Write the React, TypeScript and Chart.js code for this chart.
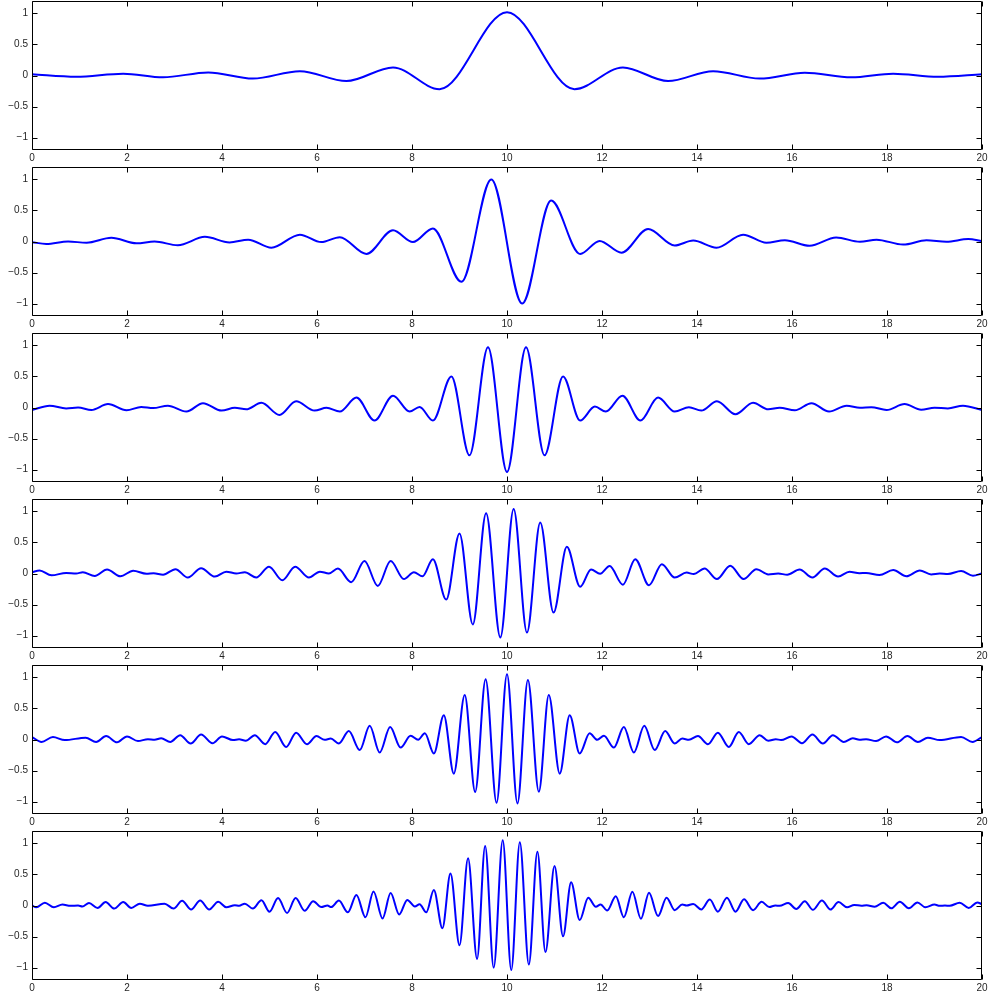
import React, { useEffect, useRef } from "react";
import { Chart, registerables } from "chart.js";

Chart.register(...registerables);

const xTickValues = [0, 2, 4, 6, 8, 10, 12, 14, 16, 18, 20];
const xTickLabels = ["0", "2", "4", "6", "8", "10", "12", "14", "16", "18", "20"];
const yTickValues = [-1, -0.5, 0, 0.5, 1];
const yTickLabels = ["\u22121", "\u22120.5", "0", "0.5", "1"];

const panel1X = [0, 0.93, 1.92, 2.76, 3.71, 4.65, 5.64, 6.62, 7.6, 8.58, 10, 11.42, 12.44, 13.39, 14.34, 15.32, 16.27, 17.25, 18.13, 19.07, 20];
const panel1Y = [0.02, -0.02, 0.03, -0.03, 0.05, -0.05, 0.07, -0.09, 0.13, -0.22, 1.02, -0.22, 0.13, -0.09, 0.07, -0.05, 0.045, -0.03, 0.03, -0.02, 0.02];

const panel2X = [0, 0.3, 0.76, 1.15, 1.67, 2.2, 2.58, 3.07, 3.64, 4.16, 4.55, 5.04, 5.64, 6.09, 6.48, 7.04, 7.6, 8.02, 8.44, 9.04, 9.67, 10.32, 10.93, 11.54, 11.95, 12.41, 12.97, 13.53, 13.92, 14.41, 14.97, 15.46, 15.85, 16.37, 16.93, 17.43, 17.78, 18.34, 18.83, 19.25, 19.71, 20];
const panel2Y = [-0.01, -0.04, 0.0, -0.02, 0.06, -0.03, 0.0, -0.06, 0.075, -0.015, 0.03, -0.1, 0.11, -0.01, 0.07, -0.2, 0.18, -0.01, 0.21, -0.65, 1.0, -1.0, 0.66, -0.2, 0.01, -0.18, 0.2, -0.065, 0.015, -0.1, 0.11, -0.02, 0.02, -0.07, 0.065, -0.005, 0.03, -0.05, 0.02, -0.005, 0.04, 0.005];

const panel3X = [0, 0.37, 0.72, 0.97, 1.25, 1.6, 1.99, 2.3, 2.55, 2.86, 3.25, 3.6, 3.99, 4.27, 4.51, 4.83, 5.21, 5.56, 5.95, 6.2, 6.48, 6.83, 7.21, 7.6, 7.95, 8.16, 8.44, 8.83, 9.21, 9.6, 10.0, 10.4, 10.79, 11.18, 11.54, 11.85, 12.08, 12.43, 12.81, 13.18, 13.53, 13.83, 14.09, 14.42, 14.81, 15.18, 15.5, 15.74, 16.06, 16.41, 16.78, 17.15, 17.43, 17.67, 17.99, 18.37, 18.72, 19.0, 19.28, 19.6, 20];
const panel3Y = [-0.04, 0.03, -0.015, 0.0, -0.04, 0.055, -0.045, 0.01, -0.01, 0.03, -0.065, 0.07, -0.05, -0.005, -0.03, 0.075, -0.12, 0.1, -0.05, -0.005, -0.065, 0.16, -0.21, 0.19, -0.065, 0.01, -0.21, 0.5, -0.77, 0.97, -1.04, 0.97, -0.77, 0.5, -0.21, 0.015, -0.065, 0.19, -0.21, 0.16, -0.065, 0.005, -0.05, 0.1, -0.11, 0.075, -0.03, -0.005, -0.045, 0.07, -0.065, 0.03, -0.005, 0.005, -0.04, 0.055, -0.035, -0.005, -0.015, 0.03, -0.04];

const panel4X = [0, 0.16, 0.41, 0.72, 0.93, 1.07, 1.32, 1.58, 1.86, 2.13, 2.41, 2.56, 2.76, 3.02, 3.28, 3.56, 3.85, 4.09, 4.3, 4.48, 4.72, 4.99, 5.27, 5.54, 5.83, 6.06, 6.25, 6.44, 6.72, 7.0, 7.28, 7.55, 7.83, 8.04, 8.22, 8.44, 8.72, 9.0, 9.28, 9.56, 9.86, 10.14, 10.42, 10.7, 10.98, 11.26, 11.54, 11.77, 11.96, 12.16, 12.44, 12.7, 12.99, 13.26, 13.53, 13.78, 13.93, 14.16, 14.42, 14.7, 14.98, 15.25, 15.5, 15.71, 15.9, 16.16, 16.43, 16.69, 16.97, 17.21, 17.42, 17.56, 17.84, 18.13, 18.41, 18.69, 18.93, 19.11, 19.28, 19.56, 19.81, 20];
const panel4Y = [0.02, 0.05, -0.03, 0.01, 0.0, 0.02, -0.04, 0.065, -0.045, 0.045, -0.005, 0.005, -0.02, 0.07, -0.065, 0.085, -0.05, 0.03, 0.0, 0.02, -0.065, 0.11, -0.11, 0.11, -0.065, 0.03, 0.0, 0.08, -0.14, 0.2, -0.2, 0.2, -0.09, 0.02, -0.045, 0.23, -0.42, 0.645, -0.82, 0.97, -1.03, 1.04, -0.95, 0.82, -0.63, 0.43, -0.215, 0.065, -0.005, 0.12, -0.18, 0.23, -0.19, 0.15, -0.065, 0.015, -0.01, 0.08, -0.09, 0.125, -0.09, 0.07, -0.015, 0.0, -0.02, 0.065, -0.065, 0.08, -0.05, 0.03, 0.005, 0.01, -0.025, 0.055, -0.045, 0.05, -0.015, 0.0, -0.01, 0.04, -0.035, 0.0];

const panel5X = [0, 0.2, 0.44, 0.69, 1.13, 1.35, 1.56, 1.79, 2.0, 2.23, 2.44, 2.58, 2.72, 2.91, 3.12, 3.34, 3.56, 3.8, 4.0, 4.23, 4.36, 4.5, 4.69, 4.91, 5.12, 5.35, 5.56, 5.79, 5.99, 6.16, 6.29, 6.46, 6.67, 6.9, 7.11, 7.32, 7.54, 7.76, 7.97, 8.13, 8.27, 8.46, 8.67, 8.88, 9.11, 9.33, 9.55, 9.78, 10.0, 10.22, 10.44, 10.67, 10.88, 11.11, 11.32, 11.53, 11.74, 11.9, 12.04, 12.25, 12.46, 12.67, 12.89, 13.11, 13.33, 13.53, 13.69, 13.83, 14.02, 14.23, 14.44, 14.67, 14.88, 15.09, 15.32, 15.5, 15.66, 15.77, 15.99, 16.21, 16.43, 16.65, 16.86, 17.09, 17.28, 17.42, 17.56, 17.77, 17.98, 18.21, 18.43, 18.65, 18.86, 19.11, 19.56, 19.8, 20];
const panel5Y = [0.04, -0.04, 0.04, -0.01, 0.03, -0.04, 0.055, -0.045, 0.05, -0.025, 0.005, -0.005, 0.02, -0.04, 0.07, -0.065, 0.08, -0.06, 0.05, -0.01, 0.005, -0.02, 0.07, -0.075, 0.12, -0.12, 0.11, -0.075, 0.055, -0.005, 0.015, -0.065, 0.135, -0.17, 0.22, -0.21, 0.2, -0.13, 0.06, -0.005, 0.1, -0.225, 0.39, -0.55, 0.715, -0.845, 0.97, -1.02, 1.05, -1.03, 0.96, -0.84, 0.715, -0.55, 0.39, -0.225, 0.1, -0.005, 0.06, -0.13, 0.2, -0.21, 0.22, -0.17, 0.135, -0.065, 0.015, -0.005, 0.055, -0.075, 0.11, -0.12, 0.12, -0.075, 0.07, -0.02, 0.005, -0.01, 0.05, -0.06, 0.08, -0.065, 0.07, -0.04, 0.02, -0.005, 0.005, -0.025, 0.05, -0.045, 0.055, -0.04, 0.03, -0.01, 0.04, -0.04, 0.04];

const panel6X = [0, 0.09, 0.27, 0.46, 0.64, 0.81, 0.97, 1.06, 1.2, 1.38, 1.55, 1.73, 1.92, 2.09, 2.27, 2.44, 2.79, 2.98, 3.16, 3.35, 3.54, 3.73, 3.92, 4.09, 4.27, 4.36, 4.48, 4.65, 4.83, 5.0, 5.18, 5.37, 5.55, 5.74, 5.92, 6.09, 6.22, 6.3, 6.46, 6.65, 6.83, 7.02, 7.19, 7.38, 7.55, 7.73, 7.9, 8.06, 8.16, 8.3, 8.46, 8.64, 8.81, 9.0, 9.18, 9.37, 9.54, 9.72, 9.91, 10.09, 10.27, 10.46, 10.64, 10.81, 11.0, 11.18, 11.35, 11.53, 11.71, 11.87, 11.97, 12.11, 12.29, 12.46, 12.64, 12.82, 12.99, 13.18, 13.36, 13.53, 13.69, 13.78, 13.92, 14.09, 14.27, 14.44, 14.63, 14.81, 14.99, 15.18, 15.36, 15.52, 15.65, 15.74, 15.92, 16.09, 16.27, 16.44, 16.63, 16.81, 16.98, 17.16, 17.31, 17.46, 17.57, 17.74, 17.92, 18.09, 18.27, 18.46, 18.64, 18.81, 19.0, 19.11, 19.22, 19.32, 19.53, 19.72, 19.9, 20];
const panel6Y = [0.0, -0.03, 0.045, -0.03, 0.015, -0.005, 0.0, -0.015, 0.04, -0.04, 0.055, -0.05, 0.055, -0.04, 0.03, -0.005, 0.03, -0.05, 0.075, -0.065, 0.08, -0.065, 0.06, -0.03, 0.005, -0.005, 0.03, -0.05, 0.085, -0.1, 0.12, -0.12, 0.12, -0.085, 0.07, -0.025, 0.0, -0.025, 0.08, -0.11, 0.17, -0.19, 0.225, -0.21, 0.2, -0.145, 0.09, -0.015, 0.02, -0.11, 0.25, -0.365, 0.515, -0.64, 0.76, -0.86, 0.96, -1.0, 1.05, -1.04, 1.02, -0.95, 0.865, -0.75, 0.635, -0.495, 0.375, -0.235, 0.125, -0.02, 0.015, -0.08, 0.15, -0.19, 0.22, -0.215, 0.205, -0.17, 0.125, -0.075, 0.015, 0.0, 0.025, -0.065, 0.095, -0.1, 0.125, -0.1, 0.1, -0.075, 0.06, -0.025, 0.0, -0.005, 0.04, -0.055, 0.07, -0.07, 0.08, -0.065, 0.055, -0.03, 0.01, -0.005, 0.005, -0.02, 0.045, -0.045, 0.06, -0.045, 0.05, -0.03, 0.015, -0.005, 0.0, -0.005, 0.045, -0.04, 0.05, 0.02];

const panels: Array<[number[], number[]]> = [
  [panel1X, panel1Y],
  [panel2X, panel2Y],
  [panel3X, panel3Y],
  [panel4X, panel4Y],
  [panel5X, panel5Y],
  [panel6X, panel6Y],
];

const TICK_FONT = { family: "'Liberation Sans', Arial, sans-serif", size: 10 };
const TICK_COLOR = "#262626";

const framePlugin = {
  id: "frameAndInwardTicks",
  afterDatasetsDraw(chart: any) {
    const { ctx, chartArea, scales } = chart;
    const l = Math.round(chartArea.left) + 0.5;
    const r = Math.round(chartArea.right) - 0.5;
    const t = Math.round(chartArea.top) + 0.5;
    const b = Math.round(chartArea.bottom) - 0.5;
    ctx.save();
    ctx.strokeStyle = "#000";
    ctx.lineWidth = 1;
    ctx.beginPath();
    ctx.rect(l, t, r - l, b - t);
    ctx.stroke();
    const len = 5;
    ctx.beginPath();
    for (const v of xTickValues) {
      const px = Math.round(scales.x.getPixelForValue(v)) + 0.5;
      ctx.moveTo(px, b);
      ctx.lineTo(px, b - len);
      ctx.moveTo(px, t);
      ctx.lineTo(px, t + len);
    }
    for (const v of yTickValues) {
      const py = Math.round(scales.y.getPixelForValue(v)) + 0.5;
      ctx.moveTo(l, py);
      ctx.lineTo(l + len, py);
      ctx.moveTo(r, py);
      ctx.lineTo(r - len, py);
    }
    ctx.stroke();
    ctx.restore();
  },
};

function Panel({ xs, ys, height }: { xs: number[]; ys: number[]; height: number }) {
  const ref = useRef<HTMLCanvasElement>(null);
  useEffect(() => {
    if (!ref.current) return;
    const chart = new Chart(ref.current, {
      type: "line",
      data: {
        datasets: [
          {
            data: xs.map((x, i) => ({ x, y: ys[i] })),
            borderColor: "#0000ff",
            borderWidth: 2,
            pointRadius: 0,
            cubicInterpolationMode: "monotone",
            fill: false,
          },
        ],
      },
      options: {
        animation: false,
        responsive: false,
        maintainAspectRatio: false,
        events: [],
        layout: { padding: { top: 1, right: 8, left: 0, bottom: 0 } },
        plugins: { legend: { display: false }, tooltip: { enabled: false } },
        scales: {
          x: {
            type: "linear",
            min: 0,
            max: 20,
            afterBuildTicks: (s: any) => {
              s.ticks = xTickValues.map((v) => ({ value: v }));
            },
            afterFit: (s: any) => {
              s.height = height - 150;
              s.paddingLeft = 0;
              s.paddingRight = 0;
              s.paddingTop = 0;
              s.paddingBottom = 0;
            },
            grid: { display: false, drawTicks: false },
            border: { display: false },
            ticks: {
              font: TICK_FONT,
              color: TICK_COLOR,
              padding: 2,
              maxRotation: 0,
              autoSkip: false,
              callback: (_v: any, i: number) => xTickLabels[i],
            },
          },
          y: {
            type: "linear",
            min: -1.2,
            max: 1.2,
            afterBuildTicks: (s: any) => {
              s.ticks = yTickValues.map((v) => ({ value: v }));
            },
            afterFit: (s: any) => {
              s.width = 32;
              s.paddingLeft = 0;
              s.paddingRight = 0;
              s.paddingTop = 0;
              s.paddingBottom = 0;
            },
            grid: { display: false, drawTicks: false },
            border: { display: false },
            ticks: {
              font: TICK_FONT,
              color: TICK_COLOR,
              padding: 4,
              autoSkip: false,
              callback: (_v: any, i: number) => yTickLabels[i],
            },
          },
        },
      },
      plugins: [framePlugin],
    } as any);
    return () => chart.destroy();
  }, [xs, ys, height]);
  return <canvas ref={ref} width={990} height={height} style={{ display: "block", width: 990, height }} />;
}

export default function App() {
  return (
    <div style={{ position: "absolute", left: 0, top: 0, width: 990, background: "#fff" }}>
      {panels.map(([xs, ys], i) => (
        <Panel key={i} xs={xs} ys={ys} height={i === panels.length - 1 ? 171 : 166} />
      ))}
    </div>
  );
}
